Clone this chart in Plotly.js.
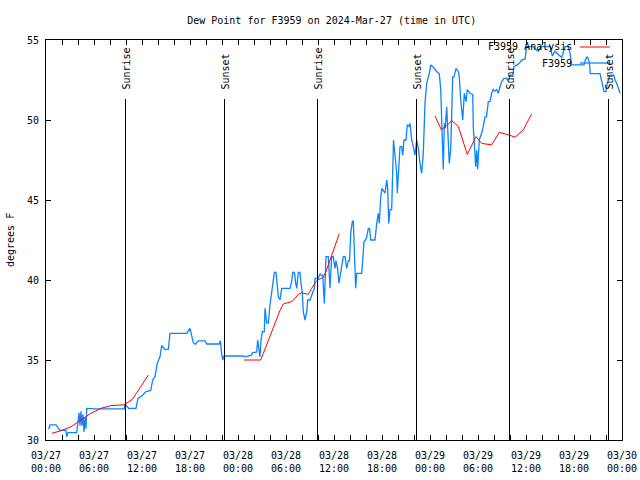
<!DOCTYPE html>
<html>
<head>
<meta charset="utf-8">
<script src="https://cdn.plot.ly/plotly-3.0.1.min.js"></script>
<style>html,body{margin:0;padding:0;background:#fff}#chart{width:640px;height:480px}</style>
</head>
<body>
<div id="chart"></div>
<script>
// Hours since 2024-03-27 00:00 UTC
var obsHours = [0.34,0.5,1.25,1.59,1.75,2.5,2.59,2.75,3.84,4.0,4.125,4.25,4.375,4.5,4.625,4.75,4.875,5.0,5.09,6.25,9.79,9.875,10.34,11.25,11.5,12.09,12.41,13.09,13.34,13.625,13.91,14.25,14.46,14.84,15.29,15.5,17.59,18.0,18.41,18.66,19.04,19.875,20.09,21.66,21.79,21.96,22.09,22.25,24.66,24.875,25.71,25.79,26.34,26.46,26.625,26.75,26.875,27.04,27.29,27.375,27.59,27.79,28.0,28.21,28.41,28.54,28.75,28.91,29.04,29.25,29.46,30.5,30.71,30.84,31.06,31.21,31.34,31.54,31.75,31.875,32.04,32.16,32.375,32.59,32.71,33.0,33.29,33.54,33.625,34.04,34.25,34.375,34.59,34.66,34.79,35.0,35.29,35.5,35.71,35.91,36.125,36.25,36.44,36.625,36.84,37.16,37.375,37.59,37.79,37.94,38.09,38.29,38.41,38.625,38.71,38.84,39.46,39.59,39.75,39.96,40.09,40.29,40.44,40.59,41.125,41.34,41.54,41.66,41.84,42.0,42.375,42.59,42.71,42.84,43.0,43.21,43.34,43.44,43.625,43.84,43.91,44.04,44.25,44.46,44.59,44.75,45.0,45.16,45.41,45.5,45.71,45.91,46.125,46.34,46.54,46.75,46.96,47.16,47.375,47.59,47.91,48.09,48.41,48.84,49.16,49.34,49.46,49.66,49.79,49.91,50.09,50.29,50.41,50.59,50.71,50.84,51.0,51.25,51.54,51.66,51.84,52.09,52.29,52.5,52.66,53.0,53.34,53.41,53.59,53.71,53.84,53.96,54.16,54.46,54.66,54.875,55.06,55.29,55.5,55.71,55.91,56.125,56.34,56.54,56.75,56.96,57.25,57.59,57.79,58.0,58.34,58.5,58.84,59.16,59.46,59.875,60.09,60.91,61.125,61.54,61.875,63.0,63.3,63.6,64.46,64.66,64.875,65.29,65.5,65.71,67.25,67.5,67.66,67.91,68.04,69.25,69.46,69.59,69.75,70.0,70.16,70.5,71.0,71.125,71.34,71.54,71.75];
var obsDew = [30.67,30.94,30.94,30.67,30.6,30.6,30.2,30.46,30.46,31.15,31.7,30.9,31.8,30.9,31.6,30.5,31.4,30.7,31.98,31.94,31.94,32.25,31.98,31.98,32.6,32.8,33.0,33.1,33.75,33.96,34.8,35.2,35.9,35.67,35.67,36.67,36.67,36.98,36.08,35.98,36.2,36.2,36.0,36.0,36.2,35.4,35.0,35.25,35.25,35.2,35.3,35.45,35.5,36.25,35.5,35.2,36.25,36.77,36.77,38.23,37.3,37.3,38.44,39.17,39.8,40.48,40.48,39.8,38.96,38.75,39.48,39.48,39.9,40.48,40.48,39.8,39.48,40.48,40.48,39.8,39.17,38.02,37.5,38.0,38.75,38.75,39.17,39.48,40.1,40.1,40.4,40.3,40.3,39.4,38.54,41.46,41.46,39.48,41.46,41.46,40.73,41.2,40.73,39.8,40.6,41.46,41.46,40.73,41.2,41.2,42.9,43.65,43.7,41.25,39.48,40.42,40.42,41.25,42.4,42.5,42.7,43.23,43.23,42.5,42.5,43.54,44.17,43.54,45.2,45.73,45.42,46.25,45.73,43.54,44.4,44.4,46.56,48.75,47.8,46.67,45.42,46.67,48.33,48.33,47.8,48.75,48.75,49.7,49.6,49.8,48.75,48.33,47.8,48.75,48.23,47.29,46.67,47.9,51.04,52.3,52.9,53.44,53.3,53.02,52.9,51.9,49.8,46.9,49.8,49.5,50.83,47.9,47.29,48.2,50.83,52.7,52.7,53.23,53.02,52.7,51.25,50.0,51.67,51.15,51.9,51.67,51.6,49.58,48.13,47.08,48.1,46.92,48.75,49.17,49.6,50.2,50.2,51.15,51.15,51.67,51.9,51.8,51.9,51.67,52.08,52.4,52.6,52.6,52.4,52.8,52.8,53.33,53.44,53.54,53.75,53.8,54.58,54.58,54.45,54.3,54.58,54.6,54.0,54.3,53.9,54.27,54.58,54.58,54.2,53.44,53.44,53.85,53.96,53.65,52.9,52.9,52.5,52.08,51.77,51.77,52.3,52.8,52.8,52.5,52.3,52.0,51.67];

var anaHours = [0.75,1.875,3.125,4.375,5.625,6.875,8.125,9.75,10.1,10.8,11.3,12.0,12.8,null,
  24.75,26.84,27.17,27.59,28.0,28.41,28.84,29.25,29.66,30.09,30.71,31.125,31.54,31.96,32.79,33.21,33.84,34.66,35.0,35.5,36.125,36.66,null,
  48.625,49.41,50.0,50.71,51.54,52.66,53.75,54.46,55.71,56.66,57.91,58.625,59.66,60.71];
var anaDew = [30.42,30.58,30.83,31.25,31.67,31.98,32.15,32.2,32.33,32.54,32.92,33.44,34.06,null,
  35.0,35.0,35.42,35.94,36.56,37.08,37.6,38.1,38.5,38.58,38.65,38.85,39.1,39.2,39.1,39.48,39.96,40.17,40.52,41.25,42.19,42.88,null,
  50.25,49.4,49.6,49.96,49.6,47.85,48.96,48.54,48.44,49.23,49.06,48.92,49.38,50.38];

var sunHours = [9.9375,22.3125,33.9375,46.3125,57.9375,70.3125];
var sunLabels = ["Sunrise","Sunset","Sunrise","Sunset","Sunrise","Sunset"];

var yTicks = [30,35,40,45,50,55];
var dayLabels = ["03/27","03/28","03/29","03/30"];

function toDate(h){
  if(h===null) return null;
  var d = new Date(Date.UTC(2024,2,27) + Math.round(h*3600000));
  return d.toISOString().slice(0,19).replace('T',' ');
}

var tickVals = [], tickText = [];
for (var h=0; h<=72; h+=2){
  tickVals.push(toDate(h));
  if (h%6===0){
    var hh = h%24; 
    tickText.push(dayLabels[Math.floor(h/24)] + '<br>' + (hh<10?'0':'') + hh + ':00');
  } else tickText.push('');
}

var mono = {family:'DejaVu Sans Mono, monospace', size:10, color:'#000'};

var traces = [
  {x: obsHours.map(toDate), y: obsDew, mode:'lines', name:'F3959', line:{color:'#0a84ff', width:1.3}, showlegend:false},
  {x: anaHours.map(toDate), y: anaDew, mode:'lines', name:'F3959 Analysis', line:{color:'#ff0000', width:1}, connectgaps:false, showlegend:false}
];

var shapes = [], annotations = [];
sunHours.forEach(function(h,i){
  shapes.push({type:'line', xref:'x', yref:'paper', x0:toDate(h), x1:toDate(h), y0:0, y1:0.8525, line:{color:'#000', width:1}});
  annotations.push({xref:'x', yref:'paper', x:toDate(h), y:0.87, text:sunLabels[i], textangle:-90, showarrow:false, xanchor:'center', yanchor:'bottom', font:mono});
});
// custom legend (gnuplot style: text then sample)
annotations.push({xref:'paper', yref:'paper', x:0.9167, y:0.9825, text:'F3959 Analysis', showarrow:false, xanchor:'right', yanchor:'middle', font:mono});
annotations.push({xref:'paper', yref:'paper', x:0.9167, y:0.9425, text:'F3959', showarrow:false, xanchor:'right', yanchor:'middle', font:mono});
shapes.push({type:'line', xref:'paper', yref:'paper', x0:0.927, x1:0.979, y0:0.9825, y1:0.9825, line:{color:'#ff0000', width:1}});
shapes.push({type:'line', xref:'paper', yref:'paper', x0:0.927, x1:0.979, y0:0.9425, y1:0.9425, line:{color:'#0a84ff', width:1.3}});
// y axis title
annotations.push({xref:'paper', yref:'paper', x:0, y:0.5, xshift:-36, text:'degrees F', textangle:-90, showarrow:false, xanchor:'center', yanchor:'middle', font:mono});

var layout = {
  width:640, height:480,
  margin:{l:46, r:18, t:40, b:40},
  paper_bgcolor:'#fff', plot_bgcolor:'#fff',
  title:{text:'Dew Point for F3959 on 2024-Mar-27 (time in UTC)', font:mono, x:0.496, xref:'paper', xanchor:'center', y:0.958, yanchor:'middle'},
  xaxis:{type:'date', range:[toDate(0), toDate(72)], tickmode:'array', tickvals:tickVals, ticktext:tickText,
    ticks:'inside', ticklen:5, tickcolor:'#000', showline:true, linecolor:'#000', linewidth:1, mirror:'allticks',
    showgrid:false, zeroline:false, tickfont:mono, ticklabelstandoff:6, fixedrange:true},
  yaxis:{range:[30,55], tickmode:'array', tickvals:yTicks, ticktext:yTicks.map(String),
    ticks:'inside', ticklen:5, tickcolor:'#000', showline:true, linecolor:'#000', linewidth:1, mirror:'allticks',
    showgrid:false, zeroline:false, tickfont:mono, ticklabelstandoff:4, fixedrange:true},
  shapes:shapes, annotations:annotations, showlegend:false
};

Plotly.newPlot('chart', traces, layout, {staticPlot:true, displayModeBar:false});
</script>
</body>
</html>
